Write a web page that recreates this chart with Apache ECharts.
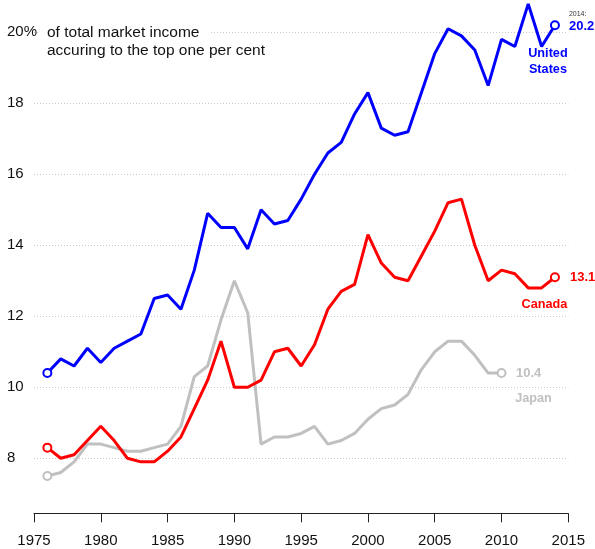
<!DOCTYPE html>
<html>
<head>
<meta charset="utf-8">
<script src="https://cdn.jsdelivr.net/npm/echarts@6/dist/echarts.min.js"></script>
<style>
  html, body { margin: 0; padding: 0; background: #fff; }
  #chart { width: 595px; height: 549px; }
</style>
</head>
<body>
<div id="chart"></div>
<script>
// data (share of income, %)
var years = [];
for (var y = 1976; y <= 2014; y++) years.push(y);

var usValues = [10.4, 10.8, 10.6, 11.1, 10.7, 11.1, 11.3, 11.5, 12.5, 12.6, 12.2, 13.3, 14.9, 14.5, 14.5, 13.9, 15.0, 14.6, 14.7, 15.3,
  16.0, 16.6, 16.9, 17.7, 18.3, 17.3, 17.1, 17.2, 18.3, 19.4, 20.1, 19.9, 19.5, 18.5, 19.8, 19.6, 20.8, 19.6, 20.2];
var canadaValues = [8.3, 8.0, 8.1, 8.5, 8.9, 8.5, 8.0, 7.9, 7.9, 8.2, 8.6, 9.4, 10.2, 11.3, 10.0, 10.0, 10.2, 11.0, 11.1, 10.6,
  11.2, 12.2, 12.7, 12.9, 14.3, 13.5, 13.1, 13.0, 13.7, 14.4, 15.2, 15.3, 14.0, 13.0, 13.3, 13.2, 12.8, 12.8, 13.1];
var japanValues = [7.5, 7.6, 7.9, 8.4, 8.4, 8.3, 8.2, 8.2, 8.3, 8.4, 8.9, 10.3, 10.6, 11.9, 13.0, 12.1, 8.4, 8.6, 8.6, 8.7,
  8.9, 8.4, 8.5, 8.7, 9.1, 9.4, 9.5, 9.8, 10.5, 11.0, 11.3, 11.3, 10.9, 10.4, 10.4];

var yTicks = [8, 10, 12, 14, 16, 18, 20];

var chart = echarts.init(document.getElementById('chart'));

// only first and last point get a hollow circle
function makeData(values, color, lastLabel) {
    return values.map(function (v, i) {
        var item = { value: [years[i], v] };
        if (i === 0 || i === values.length - 1) {
            item.symbol = 'circle';
            item.symbolSize = 8;
            item.itemStyle = { color: '#fff', borderColor: color, borderWidth: 2 };
        }
        if (i === values.length - 1 && lastLabel) {
            item.label = lastLabel;
        }
        return item;
    });
}

function nameMark(values, text, color, offset) {
    var n = values.length - 1;
    return {
        silent: true,
        symbol: 'circle',
        symbolSize: 0,
        data: [{
            coord: [years[n], values[n]],
            label: {
                show: true,
                position: 'inside',
                offset: offset,
                formatter: text,
                color: color,
                fontSize: 12.7,
                fontWeight: 'bold',
                lineHeight: 16,
                fontFamily: 'Liberation Sans, Arial, sans-serif'
            }
        }]
    };
}

var usColor = '#0000ff';
var caColor = '#ff0000';
var jpColor = '#c0c0c0';

chart.setOption({
    animation: false,
    textStyle: { fontFamily: 'Liberation Sans, Arial, sans-serif' },
    title: {
        left: 39,
        top: 24,
        padding: 0,
        text: '{a|of total market income}\n{b|accuring to the top one per cent}',
        textStyle: {
            fontWeight: 'normal',
            rich: {
                a: { fontSize: 15.5, fontWeight: 'normal', lineHeight: 18, color: '#111', backgroundColor: '#fff', padding: [0, 10, 0, 8] },
                b: { fontSize: 15.5, fontWeight: 'normal', lineHeight: 18, color: '#111', padding: [0, 0, 0, 8] }
            }
        }
    },
    grid: {
        left: 34,
        right: 26.7,
        top: 0,
        bottom: 35.7
    },
    xAxis: {
        type: 'value',
        min: 1975,
        max: 2015,
        interval: 5,
        axisLine: { lineStyle: { color: '#222', width: 1 } },
        axisTick: { length: 9, lineStyle: { color: '#222' } },
        axisLabel: { fontSize: 15, color: '#111', margin: 20, formatter: function (v) { return String(v); } },
        splitLine: { show: false }
    },
    yAxis: {
        type: 'value',
        min: 6.45,
        max: 20.91,
        axisLine: { show: false },
        axisTick: { show: false, customValues: yTicks },
        axisLabel: {
            customValues: yTicks,
            align: 'left',
            margin: 27,
            fontSize: 15,
            color: '#111',
            formatter: function (v) { return v === 20 ? '20%' : String(v); }
        },
        splitLine: { show: true, lineStyle: { color: '#c8c8c8', type: [1, 2], width: 1 } }
    },
    series: [
        {
            name: 'Japan',
            type: 'line',
            symbol: 'none',
            z: 3,
            lineStyle: { color: jpColor, width: 3 },
            data: makeData(japanValues, jpColor, {
                show: true, position: 'right', distance: 9.5, formatter: '10.4',
                color: jpColor, fontSize: 13, fontWeight: 'bold'
            }),
            markPoint: nameMark(japanValues, 'Japan', jpColor, [32, 25])
        },
        {
            name: 'Canada',
            type: 'line',
            symbol: 'none',
            z: 4,
            lineStyle: { color: caColor, width: 3 },
            data: makeData(canadaValues, caColor, {
                show: true, position: 'right', distance: 10, formatter: '13.1',
                color: caColor, fontSize: 13, fontWeight: 'bold'
            }),
            markPoint: nameMark(canadaValues, 'Canada', caColor, [-10.5, 27])
        },
        {
            name: 'United States',
            type: 'line',
            symbol: 'none',
            z: 5,
            lineStyle: { color: usColor, width: 3 },
            data: makeData(usValues, usColor, {
                show: true, position: 'right', distance: 9, offset: [0, -4.5],
                formatter: '{d|2014:}\n{v|20.2}',
                rich: {
                    d: { fontSize: 7, lineHeight: 11, color: '#333' },
                    v: { fontSize: 13, lineHeight: 13, color: usColor, fontWeight: 'bold' }
                }
            }),
            markPoint: nameMark(usValues, 'United\nStates', usColor, [-7, 36])
        }
    ]
});
</script>
</body>
</html>
